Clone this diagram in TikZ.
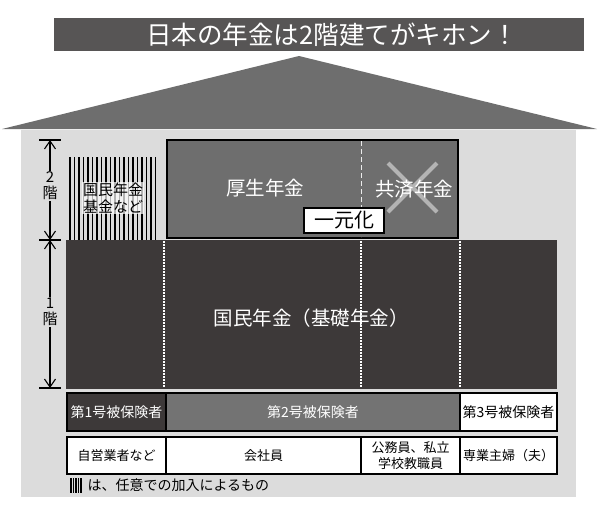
\documentclass[tikz,border=0pt]{standalone}
\usepackage{fontspec}
\setmainfont{Noto Sans CJK JP}
\usepackage{xcolor}
\usetikzlibrary{arrows.meta, positioning}

\definecolor{barcol}{HTML}{575555}
\definecolor{roofcol}{HTML}{6E6E6E}
\definecolor{bodycol}{HTML}{DCDCDC}
\definecolor{basecol}{HTML}{3D3939}
\definecolor{koseicol}{HTML}{6E6E6E}
\definecolor{rowgray}{HTML}{737373}
\definecolor{crosscol}{HTML}{B4B4B4}

\tikzset{
    dimarrow/.style={line width=1.1pt, {Straight Barb[length=8pt,width=11pt]}-{Straight Barb[length=8pt,width=11pt]}},
    dimlabel/.style={fill=bodycol, inner sep=1pt, align=center, font=\fontsize{15}{16}\selectfont},
    cell/.style={draw=black, line width=1.8pt},
    bigtext/.style={text=white, font=\fontsize{19.5}{22}\selectfont},
    rowtext/.style={font=\fontsize{14}{17}\selectfont},
    smalltext/.style={align=center, font=\fontsize{13}{16.5}\selectfont},
}

\begin{document}
\begin{tikzpicture}[x=1pt, y=-1pt]

    \useasboundingbox (0,0) rectangle (600,515);

    % Title bar
    \fill[barcol] (54,18) rectangle (584,51);
    \node[text=white, font=\fontsize{25.5}{28}\selectfont] (title) at (332,35) {日本の年金は2階建てがキホン！};

    % Roof and house body
    \fill[roofcol] (2,129) -- (299,56) -- (597,129) -- cycle;
    \fill[bodycol] (21,130) rectangle (576,497);

    % Floor heights
    \coordinate (floortwo) at (50,140);
    \coordinate (floormid) at (50,240);
    \coordinate (floorone) at (50,388);
    \foreach \y in {140,240,388} {
            \draw[line width=1.1pt] (39,\y) -- (61,\y);
        }
    \draw[dimarrow] (floortwo) -- (floormid);
    \draw[dimarrow] (floormid) -- (floorone);
    \node[dimlabel] (labeltwo) at (50,186) {2\\階};
    \node[dimlabel] (labelone) at (50,312) {1\\階};

    % Voluntary fund (hatched)
    \foreach \x in {70,74.5,...,158} {
            \draw[line width=1.5pt] (\x,157) -- (\x,240);
        }
    \node[align=center, fill=white, fill opacity=0.7, text opacity=1, inner sep=1pt,
        font=\fontsize{15}{17}\selectfont] (fund) at (113,198) {国民年金\\基金など};

    % Second floor: employee pension
    \draw[line width=2pt, fill=koseicol] (167,140) rectangle (458,238);
    \draw[white!85!gray, line width=1pt, dash pattern=on 5pt off 3pt] (361,141) -- (361,237);
    \draw[crosscol, line width=4pt] (388,163) -- (437,212);
    \draw[crosscol, line width=4pt] (437,163) -- (388,212);
    \node[bigtext] (kosei) at (265,188) {厚生年金};
    \node[bigtext] (kyosai) at (414,189) {共済年金};
    \node[draw, line width=1.5pt, fill=white, minimum width=80pt, minimum height=25pt, inner sep=0pt,
        font=\fontsize{20}{22}\selectfont] (unify) at (344,220.5) {一元化};

    % First floor: basic pension
    \fill[basecol] (66,240) rectangle (557,389);
    \foreach \x in {164,361,460} {
            \draw[white, line width=1.2pt, dash pattern=on 1.5pt off 1.5pt] (\x,241) -- (\x,388);
        }
    \node[bigtext] (kokumin) at (311,318) {国民年金（基礎年金）};

    % Insured categories
    \foreach \xa/\xb/\col/\tcol/\txt in {67/166/basecol/white/第1号被保険者, 166/460/rowgray/white/第2号被保険者, 460/557/white/black/第3号被保険者} {
            \draw[cell, fill=\col] (\xa,393) rectangle (\xb,431);
            \node[rowtext, text=\tcol] (ins\xa) at ({(\xa+\xb)/2},412) {\txt};
        }

    % Occupations
    \foreach \xa/\xb/\txt in {67/166/自営業者など, 166/361/会社員, 361/460/{公務員、私立\\学校教職員}, 460/557/専業主婦（夫）} {
            \draw[cell, fill=white] (\xa,437) rectangle (\xb,474);
            \node[smalltext] (job\xa) at ({(\xa+\xb)/2},455.5) {\txt};
        }

    % Legend
    \foreach \x in {71,73.5,...,81.5} {
            \draw[line width=1.2pt] (\x,478) -- (\x,493);
        }
    \node[anchor=west, font=\fontsize{14}{16}\selectfont] (legend) at (84,485.5) {は、任意での加入によるもの};

\end{tikzpicture}
\end{document}
